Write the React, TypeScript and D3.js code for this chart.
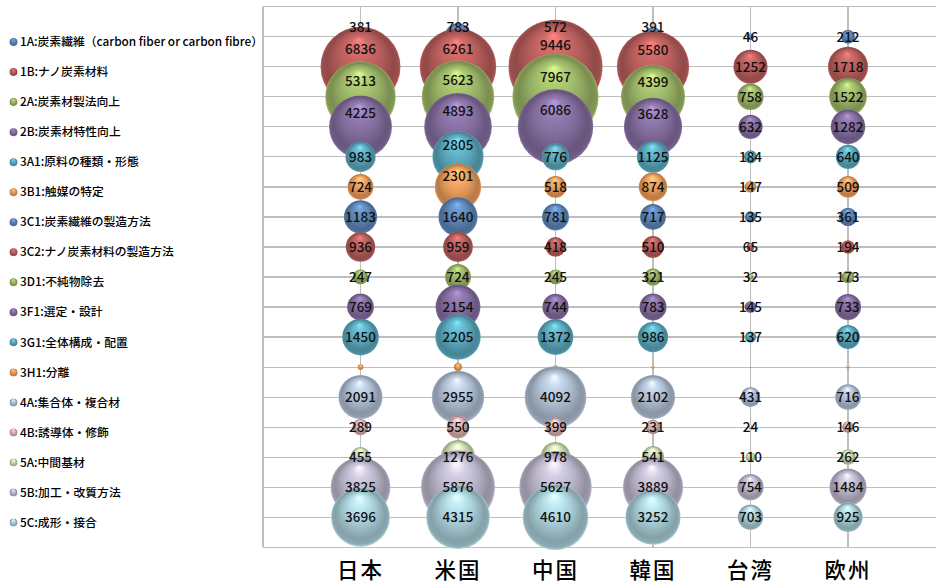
import React from "react";
import * as d3 from "d3";

// Technology categories (one bubble series each), top to bottom
const series = [
  "1A:炭素繊維（carbon fiber or carbon fibre）",
  "1B:ナノ炭素材料",
  "2A:炭素材製法向上",
  "2B:炭素材特性向上",
  "3A1:原料の種類・形態",
  "3B1:触媒の特定",
  "3C1:炭素繊維の製造方法",
  "3C2:ナノ炭素材料の製造方法",
  "3D1:不純物除去",
  "3F1:選定・設計",
  "3G1:全体構成・配置",
  "3H1:分離",
  "4A:集合体・複合材",
  "4B:誘導体・修飾",
  "5A:中間基材",
  "5B:加工・改質方法",
  "5C:成形・接合",
];

// Filing regions along the x axis
const regions = ["日本", "米国", "中国", "韓国", "台湾", "欧州"];

// Counts per series, in region order
const counts: number[][] = [
  [381, 783, 572, 391, 46, 212],
  [6836, 6261, 9446, 5580, 1252, 1718],
  [5313, 5623, 7967, 4399, 758, 1522],
  [4225, 4893, 6086, 3628, 632, 1282],
  [983, 2805, 776, 1125, 184, 640],
  [724, 2301, 518, 874, 147, 509],
  [1183, 1640, 781, 717, 135, 361],
  [936, 959, 418, 510, 65, 194],
  [247, 724, 245, 321, 32, 173],
  [769, 2154, 744, 783, 145, 733],
  [1450, 2205, 1372, 986, 137, 620],
  [35, 70, 20, 12, 3, 12],
  [2091, 2955, 4092, 2102, 431, 716],
  [289, 550, 399, 231, 24, 146],
  [455, 1276, 978, 541, 110, 262],
  [3825, 5876, 5627, 3889, 754, 1484],
  [3696, 4315, 4610, 3252, 703, 925],
];

// Series whose data labels are switched off
const unlabeledSeries = ["3H1:分離"];

const colors = [
  "#4F81BD", "#C0504D", "#9BBB59", "#8064A2", "#4BACC6", "#F79646",
  "#4F81BD", "#C0504D", "#9BBB59", "#8064A2", "#4BACC6", "#F79646",
  "#A5B7D0", "#D6A6A5", "#C2D5A4", "#B5AEC8", "#9DCBD6",
];

const W = 936;
const H = 585;
const plotLeft = 263;
const plotTop = 6.7;
const plotBottom = 547.3;
const nRows = series.length;
// rows of the upper block whose crowded labels are lifted above centre
const liftedRows = 6;

const x = d3.scaleLinear().domain([0, regions.length + 1]).range([plotLeft, 945.5]);
const y = d3.scaleLinear().domain([0, nRows + 1]).range([plotBottom, plotTop]);
const maxCount = d3.max(counts.flat()) as number;
const r = d3.scaleSqrt().domain([0, maxCount]).range([0, 47]);

const rowY = (i: number) => y(nRows - i);
const rowGap = y(1) - y(2);

const numFont = "'Noto Sans CJK JP', 'Noto Sans', sans-serif";

// Glossy sphere shading: specular spot near the top, darker lower body, light rim
function Gradient({ id, color }: { id: string; color: string }) {
  const hsl = d3.hsl(color);
  hsl.s *= 0.78;
  const base = d3.rgb(hsl.formatHex());
  return (
    <radialGradient id={id} cx="0.5" cy="0.5" r="0.5" fx="0.48" fy="0.16">
      <stop offset="0" stopColor={base.brighter(1.0).formatHex()} />
      <stop offset="0.22" stopColor={base.brighter(0.45).formatHex()} />
      <stop offset="0.55" stopColor={base.formatHex()} />
      <stop offset="0.84" stopColor={base.darker(0.6).formatHex()} />
      <stop offset="0.95" stopColor={base.darker(0.45).formatHex()} />
      <stop offset="1" stopColor={base.brighter(0.15).formatHex()} />
    </radialGradient>
  );
}

export default function App() {
  const ticksX = d3.range(1, regions.length + 2);
  const ticksY = d3.range(1, nRows + 1);

  const labelDy = (si: number, ci: number) => {
    const rad = r(counts[si][ci]);
    if (si >= liftedRows || si + 1 >= nRows) return 0;
    const overlap = rad + r(counts[si + 1][ci]) - rowGap;
    return overlap > 10 ? -Math.max(10, 0.45 * rad) : 0;
  };

  return (
    <svg
      width={W}
      height={H}
      style={{ position: "absolute", left: 0, top: 0, background: "#fff" }}
    >
      <defs>
        {colors.map((c, i) => (
          <Gradient key={i} id={`g${i}`} color={c} />
        ))}
      </defs>

      {/* gridlines and plot frame */}
      <g stroke="#BEBEBE" strokeWidth={1.2} shapeRendering="crispEdges">
        {ticksY.map((t) => (
          <line key={`h${t}`} x1={plotLeft} x2={W} y1={y(t)} y2={y(t)} />
        ))}
        {ticksX.map((t) => (
          <line key={`v${t}`} x1={x(t)} x2={x(t)} y1={plotTop} y2={plotBottom} />
        ))}
        <line x1={plotLeft} x2={W} y1={plotTop} y2={plotTop} />
        <line x1={plotLeft} x2={W} y1={plotBottom} y2={plotBottom} />
        <line x1={plotLeft} x2={plotLeft} y1={plotTop} y2={plotBottom} />
      </g>

      {/* bubbles, later series drawn over earlier ones */}
      {counts.map((row, si) => (
        <g key={`s${si}`}>
          {row.map((v, ci) => (
            <circle
              key={ci}
              cx={x(ci + 1)}
              cy={rowY(si)}
              r={r(v)}
              fill={`url(#g${si})`}
            />
          ))}
        </g>
      ))}

      {/* data labels */}
      <g fontFamily={numFont} fontSize={13.5} fontWeight={500} fill="#111" textAnchor="middle">
        {counts.map((row, si) =>
          unlabeledSeries.includes(series[si])
            ? null
            : row.map((v, ci) => (
                <text
                  key={`t${si}-${ci}`}
                  x={x(ci + 1)}
                  y={rowY(si) + labelDy(si, ci)}
                  dy="0.36em"
                >
                  {v}
                </text>
              ))
        )}
      </g>

      {/* category axis labels */}
      <g
        fontFamily="'Noto Sans CJK JP', sans-serif"
        fontSize={21.5}
        fontWeight={500}
        fill="#000"
        textAnchor="middle"
      >
        {regions.map((name, i) => (
          <text key={name} x={x(i + 1)} y={577.5} letterSpacing={2}>
            {name}
          </text>
        ))}
      </g>

      {/* legend */}
      <g
        fontFamily="'Noto Sans CJK JP', sans-serif"
        fontSize={11.8}
        fontWeight={500}
        fill="#000"
      >
        {series.map((name, i) => (
          <g key={name} transform={`translate(0, ${rowY(i) + 5.3})`}>
            <circle cx={13.5} cy={0} r={4} fill={`url(#g${i})`} />
            <text x={20} y={0} dy="0.35em">
              {name}
            </text>
          </g>
        ))}
      </g>
    </svg>
  );
}
